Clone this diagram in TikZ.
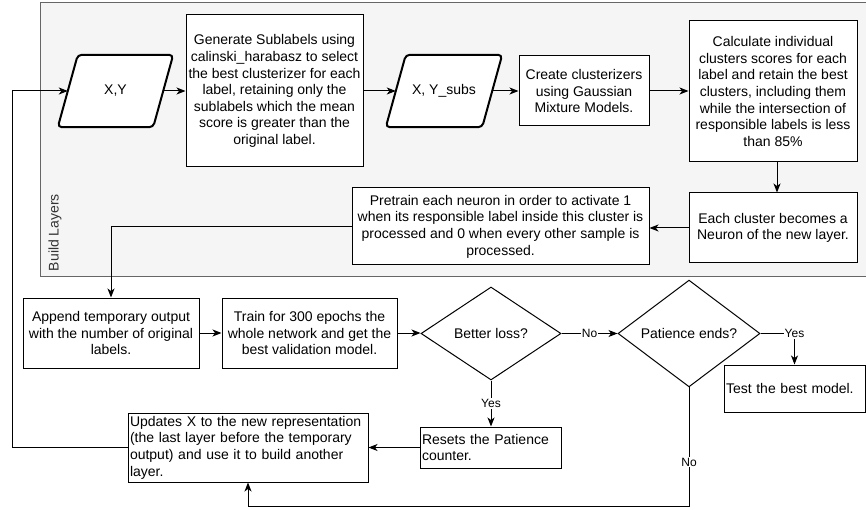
\documentclass[tikz,border=0pt]{standalone}
\usepackage{fontspec}
\setmainfont{Liberation Sans}
\usetikzlibrary{shapes.geometric,arrows.meta,calc}
\definecolor{grpfill}{HTML}{F5F5F5}
\definecolor{grpline}{HTML}{666666}
\definecolor{grptext}{HTML}{333333}
\begin{document}
\begin{tikzpicture}[x=1pt,y=-1pt,
  every node/.style={font=\fontsize{14}{16.6}\selectfont},
  box/.style={draw, line width=1pt, fill=white, inner sep=0pt, align=center},
  lbox/.style={draw, line width=1pt, fill=white, inner xsep=2pt, inner ysep=0pt, align=left},
  para/.style={inner sep=0pt},
  dec/.style={draw, diamond, line width=1pt, fill=white, inner sep=0pt},
  arr/.style={line width=1pt, -{Stealth[length=9pt,width=7pt,inset=2.5pt]}},
  lbl/.style={font=\fontsize{12}{14}\selectfont, fill=white, inner sep=1pt},
  paraline/.style={line width=2pt, rounded corners=4pt, fill=white}
]
\useasboundingbox (0,0) rectangle (866,510);
% group
\draw[fill=grpfill, draw=grpline, line width=1pt] (40,3) rectangle (890,276);
\node[rotate=90, text=grptext] (grp) at (55,232.5) {Build Layers};

% parallelogram X,Y
\node[para, minimum width=95pt, minimum height=72pt] (xy) at (115.5,91) {};
\draw[paraline] ($(xy.north west)+(10,0)$) -- ($(xy.north east)+(10,0)$) -- ($(xy.south east)-(10,0)$) -- ($(xy.south west)-(10,0)$) -- cycle;
\node at (xy.center) {X,Y};

\node[box, minimum width=177pt, minimum height=152pt] (gen) at (274.5,91)
 {Generate Sublabels using\\calinski\_harabasz to select\\the best clusterizer for each\\label, retaining only the\\sublabels which the mean\\score is greater than the\\original label.};

% parallelogram X, Y_subs
\node[para, minimum width=96pt, minimum height=72pt] (xys) at (444,91) {};
\draw[paraline] ($(xys.north west)+(10,0)$) -- ($(xys.north east)+(10,0)$) -- ($(xys.south east)-(10,0)$) -- ($(xys.south west)-(10,0)$) -- cycle;
\node at (xys.center) {X, Y\_subs};

\node[box, minimum width=130pt, minimum height=70pt] (cre) at (584,91)
 {Create clusterizers\\using Gaussian\\Mixture Models.};

\node[box, minimum width=168pt, minimum height=141pt] (calc) at (773,91.5)
 {Calculate individual\\clusters scores for each\\label and retain the best\\clusters, including them\\while the intersection of\\responsible labels is less\\than 85\%};

\node[box, minimum width=168pt, minimum height=70pt] (each) at (773,228)
 {Each cluster becomes a\\Neuron of the new layer.};

\node[box, minimum width=297pt, minimum height=77pt] (pre) at (500.5,226.5)
 {Pretrain each neuron in order to activate 1\\when its responsible label inside this cluster is\\processed and 0 when every other sample is\\processed.};

\node[box, minimum width=176pt, minimum height=70pt] (app) at (111,333)
 {Append temporary output\\with the number of original\\labels.};

\node[box, minimum width=175pt, minimum height=70pt] (train) at (309.5,333)
 {Train for 300 epochs the\\whole network and get the\\best validation model.};

\node[dec, minimum width=140pt, minimum height=93pt] (better) at (491,333.5) {Better loss?};
\node[dec, minimum width=142pt, minimum height=93pt] (pat) at (689,333.5) {Patience ends?};

\node[lbox, text width=137pt, minimum height=47pt] (test) at (794.5,388.5)
 {Test the best model.};

\node[lbox, text width=137pt, minimum height=41pt] (res) at (490.5,447.5)
 {Resets the Patience\\counter.};

\node[lbox, text width=236pt, minimum height=69pt] (upd) at (248,447.5)
 {Updates X to the new representation\\(the last layer before the temporary\\output) and use it to build another\\layer.};

% connectors
\draw[arr] (xy.east) -- (xy.east -| gen.west);
\draw[arr] (gen.west -| gen.east) -- (xys.west);
\draw[arr] (xys.east) -- (cre.west);
\draw[arr] (cre.east) -- (cre.east -| calc.west);
\draw[arr] ([xshift=4pt]calc.south) -- ([xshift=4pt]each.north);
\draw[arr] (each.west) -- (each.west -| pre.east);
\draw[arr] (pre.west) -| (app.north);
\draw[arr] (app.east) -- (train.west);
\draw[arr] (train.east) -- (train.east -| better.west);
\draw[arr] (better.east) -- node[lbl] (lno1) {No} (pat.west);
\draw[arr] (pat.east) -| node[lbl, pos=0.5] (lyes2) {Yes} (test.north);
\draw[arr] (better.south) -- node[lbl] (lyes1) {Yes} (better.south |- res.north);
\draw[arr] (res.west) -- (res.west -| upd.east);
\coordinate (pb) at (pat.south |- 0,506);
\draw[arr] (pat.south) -- node[lbl, pos=0.63] (lno2) {No} (pb) -| (upd.south);
\coordinate (lb) at (12,0);
\draw[arr] (upd.west) -| (lb |- xy.west) -- (xy.west);
\end{tikzpicture}
\end{document}
